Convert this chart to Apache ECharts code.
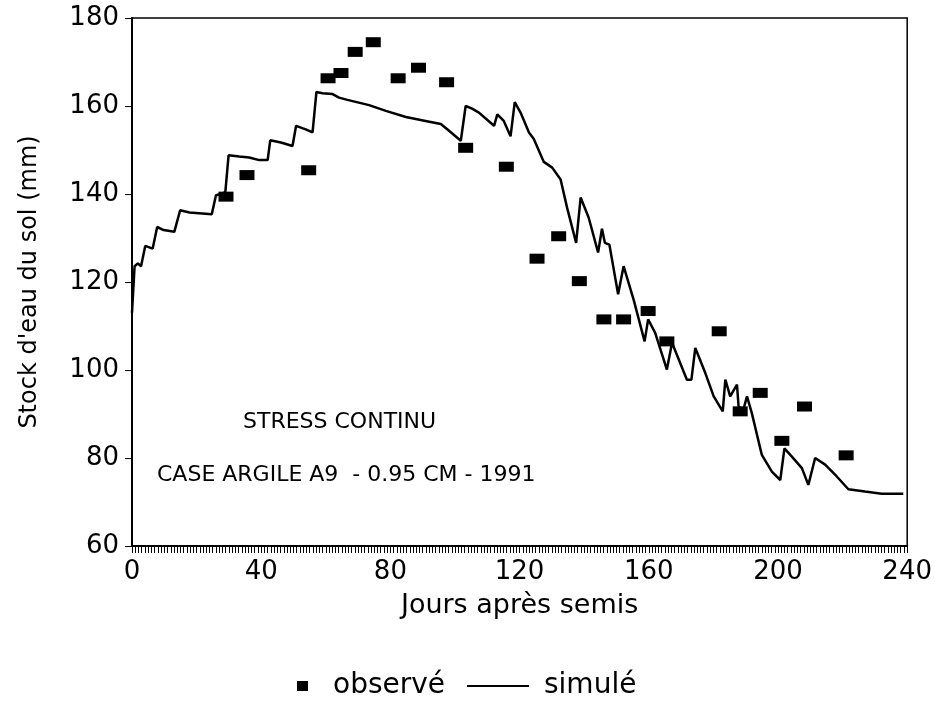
<!DOCTYPE html>
<html>
<head>
<meta charset="utf-8">
<script src="https://cdn.jsdelivr.net/npm/echarts@6/dist/echarts.min.js"></script>
<style>
  html, body { margin: 0; padding: 0; background: #fff; }
  #chart { width: 935px; height: 706px; }
</style>
</head>
<body>
<div id="chart"></div>
<script>
// observé : jours et stock (mm)
var obsDays = [29.1, 35.6, 54.7, 60.7, 64.7, 69.1, 74.7, 82.4, 88.7, 97.4, 103.3, 115.9,
  125.4, 132.1, 138.5, 146.1, 152.2, 159.8, 165.6, 181.8, 188.3, 194.5, 201.2, 208.2, 221.1];
var obsValues = [139.4, 144.3, 145.4, 166.3, 167.5, 172.3, 174.5, 166.3, 168.7, 165.4, 150.5, 146.2,
  125.3, 130.4, 120.2, 111.5, 111.5, 113.4, 106.5, 108.8, 90.6, 94.8, 83.9, 91.7, 80.6];

// simulé
var simDays = [0, 0.8, 1.8, 2.8, 4.1, 6.4, 7.8, 9.8, 13.1, 14.9, 17.8, 24.7, 26, 28.1, 28.9, 29.9,
  33.2, 36.3, 39.4, 42, 42.8, 46.1, 49.7, 50.8, 53.8, 55.9, 57.1, 59, 62.1, 64.1, 66.7, 73.4,
  78.6, 84.8, 90.9, 95.6, 97.6, 101.8, 103.3, 105.3, 107.4, 112.1, 113.1, 115.1, 117.2, 118.5,
  120.3, 122.9, 124.4, 127.5, 130.1, 132.7, 134.7, 137.5, 138.9, 141.4, 144.3, 145.5, 146.4,
  147.8, 150.5, 152.2, 155.3, 158.7, 159.8, 162, 165.6, 167.2, 171.8, 173.2, 174.4, 177.5,
  180.1, 182.9, 183.7, 185.2, 187.3, 187.8, 189.3, 190.4, 191.9, 195, 198.1, 200.7, 202,
  204.3, 207.4, 209.4, 211.5, 214.6, 218.2, 221.8, 226.9, 232.1, 238.8];
var simValues = [113, 123.6, 124.2, 123.6, 128.2, 127.6, 132.5, 131.8, 131.4, 136.3, 135.8, 135.4,
  139.7, 140.1, 140.5, 148.8, 148.5, 148.3, 147.7, 147.7, 152.2, 151.7, 150.9, 155.5, 154.7,
  154, 163.2, 162.9, 162.7, 161.9, 161.4, 160.2, 158.9, 157.5, 156.6, 155.9, 154.7, 152.1,
  160, 159.4, 158.5, 155.5, 158.1, 156.6, 153.1, 160.9, 158.5, 154, 152.5, 147.3, 146, 143.3,
  136.9, 128.9, 139.2, 134.6, 126.7, 132.1, 128.9, 128.5, 117.2, 123.6, 116, 106.5, 111.5,
  108.4, 100.1, 106.2, 97.8, 97.8, 105, 99.3, 94, 90.6, 97.8, 94, 96.7, 91.7, 91, 94, 90.2,
  80.7, 76.9, 75, 82.2, 80.3, 77.7, 73.9, 80, 78.5, 75.8, 72.9, 72.4, 71.9, 71.9];

var annotations = ['STRESS CONTINU', 'CASE ARGILE A9  - 0.95 CM - 1991'];

function zip(xs, ys) {
  var res = [];
  for (var i = 0; i < xs.length; i++) res.push([xs[i], ys[i]]);
  return res;
}

var font = 'DejaVu Sans';
var chart = echarts.init(document.getElementById('chart'));

var option = {
  backgroundColor: '#fff',
  animation: false,
  grid: {
    left: 132, right: 26, top: 18, bottom: 160,
    show: true, borderColor: '#000', borderWidth: 1.5
  },
  legend: [{
    data: ['observé'],
    left: 292, top: 667,
    icon: 'rect',
    itemWidth: 11, itemHeight: 10,
    textStyle: { fontFamily: font, fontSize: 28, color: '#000', padding: [0, 0, 0, 20] }
  }, {
    data: ['simulé'],
    left: 462, top: 667,
    icon: 'rect',
    itemWidth: 62, itemHeight: 2,
    textStyle: { fontFamily: font, fontSize: 28, color: '#000', padding: [0, 0, 0, 10] }
  }],
  xAxis: {
    type: 'value',
    min: 0, max: 240, interval: 40,
    name: 'Jours après semis',
    nameLocation: 'middle',
    nameGap: 46,
    nameTextStyle: { fontFamily: font, fontSize: 27, color: '#000' },
    axisLine: { lineStyle: { color: '#000', width: 2 } },
    axisTick: { length: 7, lineStyle: { color: '#000' } },
    minorTick: { show: true, splitNumber: 40, length: 7, lineStyle: { color: '#000', width: 1 } },
    splitLine: { show: false },
    axisLabel: { fontFamily: font, fontSize: 26, color: '#000', margin: 13 }
  },
  yAxis: {
    type: 'value',
    min: 60, max: 180, interval: 20,
    name: "Stock d'eau du sol (mm)",
    nameLocation: 'middle',
    nameGap: 90,
    nameTextStyle: { fontFamily: font, fontSize: 24, color: '#000' },
    axisLine: { show: true, lineStyle: { color: '#000', width: 2 } },
    axisTick: { show: true, length: 7, lineStyle: { color: '#000' } },
    splitLine: { show: false },
    axisLabel: { fontFamily: font, fontSize: 26, color: '#000', margin: 13 }
  },
  graphic: [{
    type: 'text', left: 243, top: 411,
    style: { text: annotations[0], fontFamily: font, fontSize: 22, fill: '#000' }
  }, {
    type: 'text', left: 157, top: 464,
    style: { text: annotations[1], fontFamily: font, fontSize: 22, fill: '#000' }
  }],
  series: [{
    name: 'simulé',
    type: 'line',
    data: zip(simDays, simValues),
    symbol: 'none',
    lineStyle: { color: '#000', width: 2.5 },
    itemStyle: { color: '#000' },
    z: 2
  }, {
    name: 'observé',
    type: 'scatter',
    data: zip(obsDays, obsValues),
    symbol: 'rect',
    symbolSize: [15, 10],
    itemStyle: { color: '#000', opacity: 1 },
    z: 3
  }]
};

chart.setOption(option);
</script>
</body>
</html>
